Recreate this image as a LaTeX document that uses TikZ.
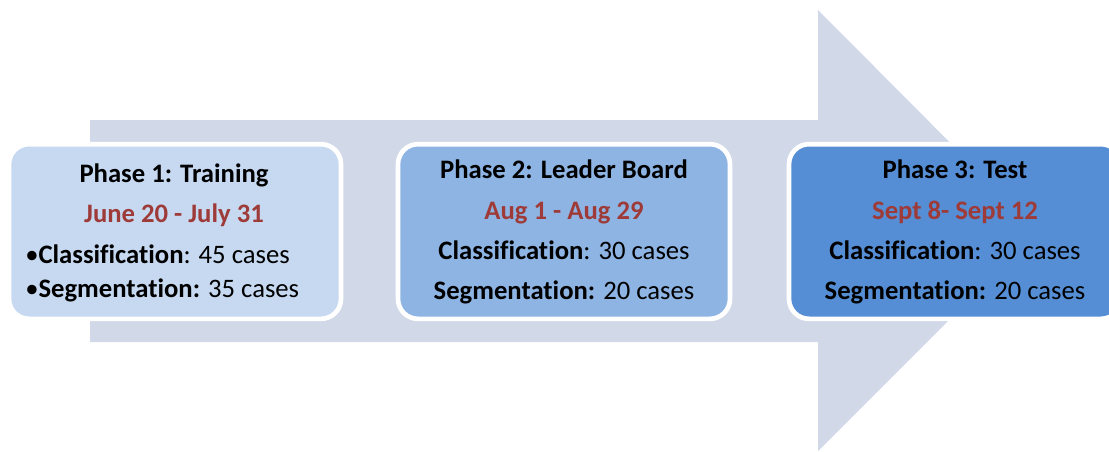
\documentclass[tikz,border=0pt]{standalone}
\usepackage{fontspec}
\setmainfont[Ligatures=NoCommon]{Carlito}
\usepackage{xcolor}
\definecolor{arrowgrey}{HTML}{D1D9E8}
\definecolor{phaseone}{HTML}{C6D9F1}
\definecolor{phasetwo}{HTML}{8EB4E3}
\definecolor{phasethree}{HTML}{558ED5}
\definecolor{datered}{HTML}{9E3B38}

\begin{document}
\begin{tikzpicture}[x=0.75pt,y=-0.75pt,
    phasebox/.style={draw=white, line width=3.5pt, rounded corners=15pt,
        minimum width=249pt, minimum height=131pt, inner sep=0pt},
    txt/.style={font=\fontsize{20}{24}\selectfont, inner sep=0pt},
    head/.style={txt, font=\fontsize{20}{24}\selectfont\bfseries},
    date/.style={head, text=datered}
]
    \useasboundingbox (0,0) rectangle (1109,451);

    % big arrow behind the phases
    \fill[arrowgrey] (90,120) -- (818,120) -- (818,10) -- (1038,231)
        -- (818,451) -- (818,342) -- (90,342) -- cycle;

    % phase boxes
    \node[phasebox, fill=phaseone] (ph1) at (175,231.5) {};
    \node[phasebox, fill=phasetwo] (ph2) at (564,231.5) {};
    \node[phasebox, fill=phasethree] (ph3) at (955,231.5) {};

    % phase 1
    \node[head, anchor=base] (ph1-title) at (174,182) {Phase 1: Training};
    \node[date, anchor=base] (ph1-date) at (174,222) {June 20 - July 31};
    \node[txt, anchor=base west] (ph1-cls) at (25,263) {•\textbf{Classification}: 45 cases};
    \node[txt, anchor=base west] (ph1-seg) at (25,297) {•\textbf{Segmentation:} 35 cases};

    % phase 2
    \node[head, anchor=base] (ph2-title) at (564,178) {Phase 2: Leader Board};
    \node[date, anchor=base] (ph2-date) at (564,219) {Aug 1 - Aug 29};
    \node[txt, anchor=base] (ph2-cls) at (564,259) {\textbf{Classification}: 30 cases};
    \node[txt, anchor=base] (ph2-seg) at (564,299) {\textbf{Segmentation:} 20 cases};

    % phase 3
    \node[head, anchor=base] (ph3-title) at (955,178) {Phase 3: Test};
    \node[date, anchor=base] (ph3-date) at (955,219) {Sept 8- Sept 12};
    \node[txt, anchor=base] (ph3-cls) at (955,259) {\textbf{Classification}: 30 cases};
    \node[txt, anchor=base] (ph3-seg) at (955,299) {\textbf{Segmentation:} 20 cases};
\end{tikzpicture}
\end{document}
